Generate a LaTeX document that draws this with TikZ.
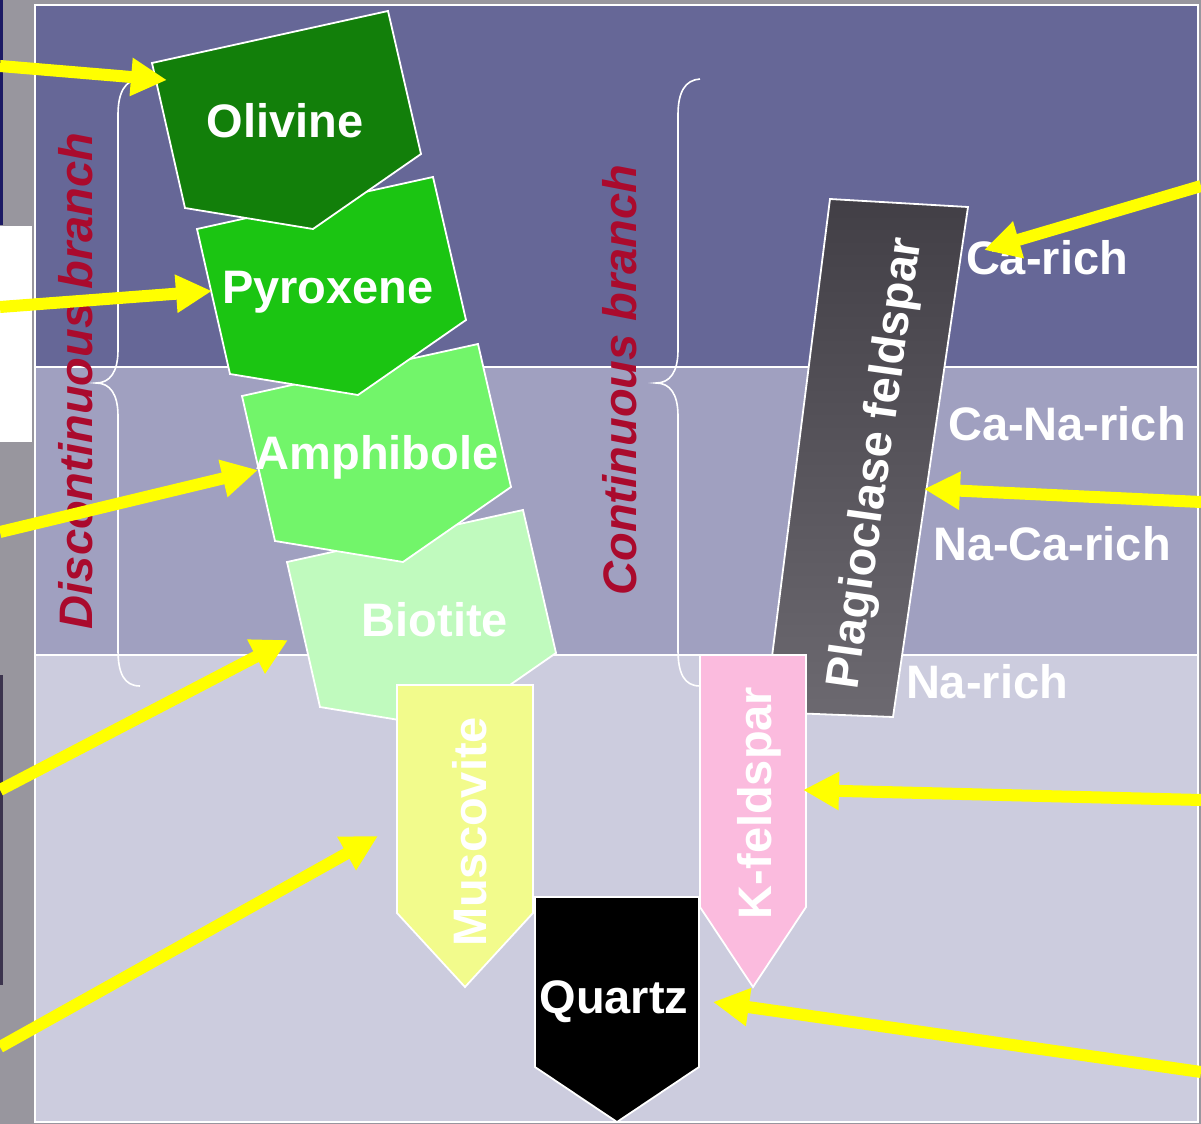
\documentclass[tikz,border=0pt]{standalone}
\usepackage{fontspec}
\setmainfont{Liberation Sans}
\usetikzlibrary{arrows.meta}
\definecolor{bggray}{RGB}{152,150,158}
\definecolor{navyedge}{RGB}{28,26,100}
\definecolor{darkpatch}{RGB}{60,52,78}
\definecolor{bandtop}{RGB}{102,103,151}
\definecolor{bandmid}{RGB}{160,160,192}
\definecolor{bandlow}{RGB}{204,204,222}
\definecolor{olivinec}{RGB}{18,127,10}
\definecolor{pyroxenec}{RGB}{27,197,18}
\definecolor{amphibolec}{RGB}{114,245,106}
\definecolor{biotitec}{RGB}{192,250,190}
\definecolor{muscovitec}{RGB}{242,251,140}
\definecolor{kfeldc}{RGB}{251,187,222}
\definecolor{plagtop}{RGB}{66,63,70}
\definecolor{plagbot}{RGB}{108,105,112}
\definecolor{branchred}{RGB}{170,10,45}
\definecolor{arrowyellow}{RGB}{255,255,0}
\begin{document}
\begin{tikzpicture}[x=0.5pt,y=-0.5pt,
  xtal/.style={draw=white, line width=0.9pt, line join=miter},
  lbl/.style={text=white, font=\bfseries\fontsize{23.5}{28}\selectfont, inner sep=0pt, anchor=base},
  branchlbl/.style={text=branchred, font=\bfseries\itshape\fontsize{23.5}{28}\selectfont, inner sep=0pt, anchor=base},
  bracestyle/.style={draw=white, line width=0.8pt},
  yarrow/.style={draw=arrowyellow, line width=6pt, -{Triangle[length=18pt,width=18pt]}},
  bandstyle/.style={draw=white, line width=0.9pt}]
\useasboundingbox (0,0) rectangle (1201,1124);
% outer background
\fill[bggray] (0,0) rectangle (1201,1124);
\fill[navyedge] (0,0) rectangle (3,225);
\fill[white] (0,226) rectangle (32,442);
\fill[darkpatch] (0,675) rectangle (3,985);
% bands
\filldraw[bandstyle, fill=bandtop] (35,5) rectangle (1198,367);
\filldraw[bandstyle, fill=bandmid] (35,367) rectangle (1198,655);
\filldraw[bandstyle, fill=bandlow] (35,655) rectangle (1198,1122);
% braces
\draw[bracestyle] (140,79) .. controls (125,80) and (118,92) .. (118,115) -- (118,350)
   .. controls (118,372) and (110,383) .. (96,383)
   .. controls (110,383) and (118,394) .. (118,416) -- (118,650)
   .. controls (118,673) and (124,686) .. (140,686);
\draw[bracestyle] (700,79) .. controls (685,80) and (678,92) .. (678,115) -- (678,350)
   .. controls (678,372) and (670,383) .. (656,383)
   .. controls (670,383) and (678,394) .. (678,416) -- (678,650)
   .. controls (678,673) and (684,686) .. (700,686);
% branch labels
\node[branchlbl, rotate=90] (disc) at (92,381) {Discontinuous branch};
\node[branchlbl, rotate=90] (cont) at (636,380) {Continuous branch};
% discontinuous series crystals
\filldraw[xtal, fill=biotitec] (287,562) -- (523,510) -- (556,653) -- (448,728) -- (320,707) -- cycle;
\filldraw[xtal, fill=amphibolec] (242,396) -- (478,344) -- (511,487) -- (403,562) -- (275,541) -- cycle;
\filldraw[xtal, fill=pyroxenec] (197,229) -- (433,177) -- (466,320) -- (358,395) -- (230,374) -- cycle;
\filldraw[xtal, fill=olivinec] (152,63) -- (388,11) -- (421,154) -- (313,229) -- (185,208) -- cycle;
\filldraw[xtal, fill=muscovitec] (397,685) -- (533,685) -- (533,913) -- (465,987) -- (397,913) -- cycle;
\filldraw[xtal, fill=black] (535,897) -- (699,897) -- (699,1067) -- (617,1122) -- (535,1067) -- cycle;
% plagioclase
\shade[top color=plagtop, bottom color=plagbot] (830,199) -- (968,207) -- (893,717) -- (765,712) -- cycle;
\draw[xtal] (830,199) -- (968,207) -- (893,717) -- (765,712) -- cycle;
\filldraw[xtal, fill=kfeldc] (700,655) -- (806,655) -- (806,907) -- (753,987) -- (700,907) -- cycle;
% crystal labels
\node[lbl] (olivine) at (285,137) {Olivine};
\node[lbl] (pyroxene) at (328,303) {Pyroxene};
\node[lbl] (amphibole) at (377,469) {Amphibole};
\node[lbl] (biotite) at (435,636) {Biotite};
\node[lbl, rotate=90] (muscovite) at (486,832) {Muscovite};
\node[lbl] (quartz) at (614,1013) {Quartz};
\node[lbl, rotate=90] (kfeldspar) at (771,803) {K-feldspar};
\node[lbl, rotate=82] (plagioclase) at (889,465) {Plagioclase feldspar};
\node[lbl] (carich) at (1047,274) {Ca-rich};
\node[lbl] (canarich) at (1067,440) {Ca-Na-rich};
\node[lbl] (nacarich) at (1052,560) {Na-Ca-rich};
\node[lbl] (narich) at (987,698) {Na-rich};
% arrow endpoints
\coordinate (s1) at (0,66);    \coordinate (t1) at (167,80);
\coordinate (s2) at (0,307);   \coordinate (t2) at (212,291);
\coordinate (s3) at (0,532);   \coordinate (t3) at (258,470);
\coordinate (s4) at (0,790);   \coordinate (t4) at (288,640);
\coordinate (s5) at (0,1047);  \coordinate (t5) at (378,836);
\coordinate (s6) at (1201,186); \coordinate (t6) at (984,250);
\coordinate (s7) at (1201,502); \coordinate (t7) at (924,489);
\coordinate (s8) at (1201,800); \coordinate (t8) at (803,790);
\coordinate (s9) at (1201,1072); \coordinate (t9) at (713,1002);
\foreach \i in {1,...,9} {\draw[yarrow] (s\i) -- (t\i);}
\end{tikzpicture}
\end{document}
